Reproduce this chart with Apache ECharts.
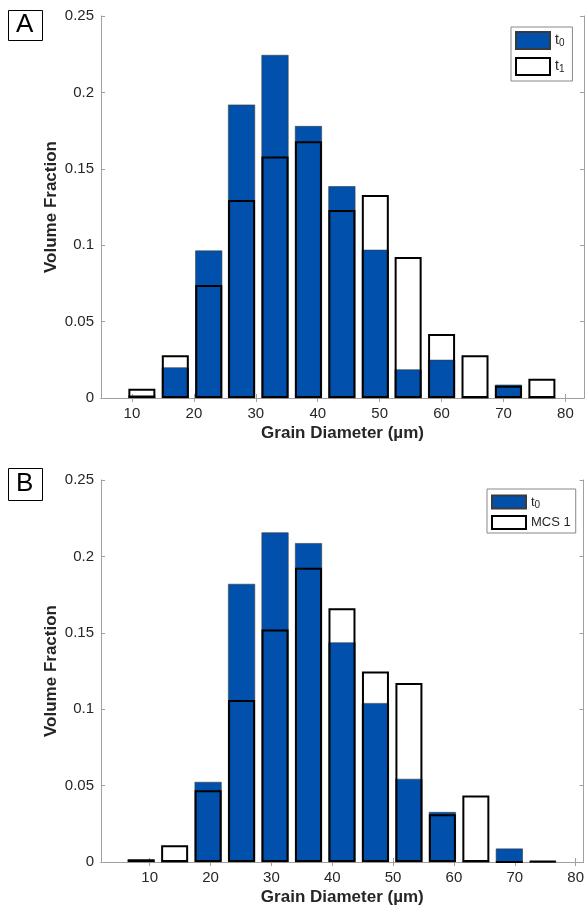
<!DOCTYPE html>
<html>
<head>
<meta charset="UTF-8">
<title>Grain size distribution</title>
<style>
    html,body{margin:0;padding:0;background:#fff;}
    #main{width:587px;height:909px;}
</style>
<script src="https://cdn.jsdelivr.net/npm/echarts@6/dist/echarts.min.js"></script>
</head>
<body>
<div id="main"></div>
<script>
    // bin centres (um)
    var diamA = [11.6, 17.0, 22.4, 27.7, 33.1, 38.5, 43.9, 49.3, 54.6, 60.0, 65.4, 70.8, 76.2];
    var diamB = [8.6, 14.1, 19.6, 25.1, 30.6, 36.1, 41.6, 47.1, 52.6, 58.1, 63.6, 69.1, 74.6];
    // panel A
    var t0A = [0.0017, 0.020, 0.0965, 0.192, 0.2245, 0.178, 0.1386, 0.097, 0.0187, 0.025, 0, 0.0087, 0];
    var t1A = [0.006, 0.028, 0.074, 0.1295, 0.158, 0.168, 0.123, 0.1328, 0.0922, 0.0419, 0.028, 0.008, 0.0126];
    // panel B
    var t0B = [0.0012, 0, 0.0524, 0.182, 0.2157, 0.2087, 0.1437, 0.104, 0.0544, 0.0327, 0, 0.0088, 0];
    var mcsB = [0.0018, 0.011, 0.047, 0.106, 0.1522, 0.1925, 0.166, 0.1247, 0.1172, 0.0312, 0.0435, 0, 0.0006];
    var xTicks = [10, 20, 30, 40, 50, 60, 70, 80];

    var BLUE = '#0050ac';
    var AXIS = '#a0a0a0';
    var TXT = '#262626';
    var FONT = 'Liberation Sans, Arial, Helvetica, sans-serif';

    function pairs(xs, ys) {
        return xs.map(function (x, i) { return [x, ys[i]]; });
    }

    function xAxes(grid, min, max) {
        return [{
            type: 'value', gridIndex: grid, min: min, max: max,
            name: 'Grain Diameter (\u00b5m)', nameLocation: 'middle', nameGap: 27, nameMoveOverlap: false,
            nameTextStyle: {fontSize: 17, fontWeight: 'bold', color: TXT, fontFamily: FONT},
            axisLine: {onZero: false, lineStyle: {color: AXIS}},
            axisTick: {inside: true, length: 4, lineStyle: {color: AXIS}, customValues: xTicks},
            axisLabel: {fontSize: 15, color: TXT, margin: 8, fontFamily: FONT, customValues: xTicks},
            splitLine: {show: false}
        }, {
            type: 'value', gridIndex: grid, min: min, max: max, position: 'top',
            axisLine: {lineStyle: {color: AXIS}},
            axisTick: {inside: true, length: 4, lineStyle: {color: AXIS}, customValues: xTicks},
            axisLabel: {show: false},
            splitLine: {show: false}
        }];
    }

    function yAxes(grid) {
        return [{
            type: 'value', gridIndex: grid, min: 0, max: 0.25, interval: 0.05,
            name: 'Volume Fraction', nameLocation: 'middle', nameGap: 41, nameMoveOverlap: false,
            nameTextStyle: {fontSize: 17, fontWeight: 'bold', color: TXT, fontFamily: FONT},
            axisLine: {show: true, lineStyle: {color: AXIS}},
            axisTick: {show: true, inside: true, length: 4, lineStyle: {color: AXIS}},
            axisLabel: {fontSize: 15, color: TXT, margin: 7, fontFamily: FONT},
            splitLine: {show: false}
        }, {
            type: 'value', gridIndex: grid, min: 0, max: 0.25, interval: 0.05, position: 'right',
            axisLine: {show: true, lineStyle: {color: AXIS}},
            axisTick: {show: true, inside: true, length: 4, lineStyle: {color: AXIS}},
            axisLabel: {show: false},
            splitLine: {show: false}
        }];
    }

    function filled(name, xi, yi, data) {
        return {
            name: name, type: 'bar', xAxisIndex: xi, yAxisIndex: yi,
            data: data, barWidth: 27, barGap: '-100%', z: 2,
            itemStyle: {color: BLUE, borderColor: '#3a3a3a', borderWidth: 0.6},
            emphasis: {disabled: true}, animation: false
        };
    }
    function outline(name, xi, yi, data) {
        return {
            name: name, type: 'bar', xAxisIndex: xi, yAxisIndex: yi,
            data: data, barWidth: 27, barGap: '-100%', z: 3,
            itemStyle: {color: 'rgba(255,255,255,0)', borderColor: '#000', borderWidth: 2},
            emphasis: {disabled: true}, animation: false
        };
    }

    function legendText(size) {
        return {
            fontSize: size, color: TXT, fontFamily: FONT,
            rich: {
                m: {fontSize: size, color: TXT, fontFamily: FONT, lineHeight: 14},
                s: {fontSize: 10, color: TXT, fontFamily: FONT, lineHeight: 10, padding: [6, 0, 0, 0]}
            }
        };
    }
    function legendFmt(name) {
        if (/^t\d$/.test(name)) return '{m|t}{s|' + name.charAt(1) + '}';
        return name;
    }

    var chart = echarts.init(document.getElementById('main'));
    chart.setOption({
        animation: false,
        grid: [
            {left: 101, top: 16, width: 483, height: 382},
            {left: 101, top: 480, width: 483, height: 382}
        ],
        xAxis: xAxes(0, 5, 83).concat(xAxes(1, 2, 81.3)),
        yAxis: yAxes(0).concat(yAxes(1)),
        legend: [{
            data: ['t0', 't1'], orient: 'vertical', left: 511, top: 27, icon: 'rect',
            itemWidth: 34, itemHeight: 17, itemGap: 7,
            padding: [4, 8, 5, 4], borderColor: '#888', borderWidth: 1, backgroundColor: '#fff',
            textStyle: legendText(14), formatter: legendFmt, selectedMode: false
        }, {
            data: ['t0', 'MCS 1'], orient: 'vertical', left: 487, top: 489, icon: 'rect',
            itemWidth: 34, itemHeight: 13, itemGap: 5,
            padding: [5, 5, 3, 4], borderColor: '#888', borderWidth: 1, backgroundColor: '#fff',
            textStyle: legendText(13), formatter: legendFmt, selectedMode: false
        }],
        graphic: [
            {type: 'rect', left: 8, top: 10, shape: {width: 34, height: 30},
             style: {fill: '#fff', stroke: '#000', lineWidth: 1}},
            {type: 'text', left: 16, top: 12, style: {text: 'A', font: '26px ' + FONT, fill: '#000'}},
            {type: 'rect', left: 8, top: 468, shape: {width: 34, height: 32},
             style: {fill: '#fff', stroke: '#000', lineWidth: 1}},
            {type: 'text', left: 16, top: 471, style: {text: 'B', font: '26px ' + FONT, fill: '#000'}}
        ],
        series: [
            filled('t0', 0, 0, pairs(diamA, t0A)),
            outline('t1', 0, 0, pairs(diamA, t1A)),
            filled('t0', 2, 2, pairs(diamB, t0B)),
            outline('MCS 1', 2, 2, pairs(diamB, mcsB))
        ]
    });
</script>
</body>
</html>
